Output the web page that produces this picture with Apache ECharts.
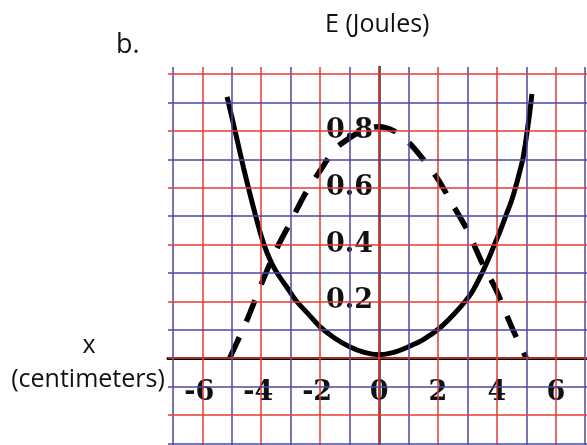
<!DOCTYPE html>
<html>
<head>
<meta charset="utf-8">
<script src="https://cdn.jsdelivr.net/npm/echarts@6/dist/echarts.min.js"></script>
<style>
html,body{margin:0;padding:0;background:#fff;}
#chart{width:587px;height:445px;}
</style>
</head>
<body>
<div id="chart"></div>
<script>
// ---- data ----
// solid curve (x in cm, E in J)
const solidX = [-5.16, -5.0, -4.8, -4.6, -4.4, -4.2, -4.0, -3.8, -3.6, -3.4, -3.1, -2.8, -2.4, -2.0, -1.5, -1.0, -0.5, 0,
                0.5, 1.0, 1.5, 2.05, 2.5, 2.93, 3.2, 3.5, 3.7, 3.92, 4.1, 4.3, 4.5, 4.63, 4.76, 4.88, 4.96, 5.03, 5.11, 5.19];
const solidE = [0.92, 0.85, 0.76, 0.67, 0.585, 0.505, 0.43, 0.37, 0.325, 0.29, 0.245, 0.20, 0.155, 0.11, 0.07, 0.04, 0.02, 0.012,
                0.02, 0.04, 0.065, 0.105, 0.15, 0.20, 0.24, 0.30, 0.345, 0.40, 0.445, 0.50, 0.555, 0.60, 0.65, 0.70, 0.75, 0.80, 0.86, 0.93];
// dashed curve
const dashX = [-5.07, -4.5, -4.0, -3.5, -3.0, -2.5, -2.0, -1.5, -1.0, -0.5, 0, 0.5, 1.0, 1.5, 2.0, 2.5, 3.0, 3.5, 4.0, 4.5, 5.0];
const dashE = [0, 0.13, 0.26, 0.38, 0.48, 0.58, 0.66, 0.735, 0.775, 0.805, 0.815, 0.80, 0.76, 0.70, 0.63, 0.54, 0.45, 0.335, 0.235, 0.11, 0];
// tick labels
const xTickLabels = [-6, -4, -2, 0, 2, 4, 6];
const yTickLabels = [0.2, 0.4, 0.6, 0.8];
// graph paper lines
const xGridValues = [-7, -6, -5, -4, -3, -2, -1, 0, 1, 2, 3, 4, 5, 6, 7];
const yGridValues = [-0.3, -0.2, -0.1, 0, 0.1, 0.2, 0.3, 0.4, 0.5, 0.6, 0.7, 0.8, 0.9, 1.0];
// texts
const yTitle = 'E (Joules)';
const xTitle1 = 'x';
const xTitle2 = '(centimeters)';
const partLabel = 'b.';

const RED = '#e43a36';
const BLUE = '#4b47a4';

const zip = (a, b) => a.map((v, i) => [v, b[i]]);

const vLines = xGridValues.map(v => ({
  xAxis: v,
  lineStyle: { color: (Math.round(v) % 2 === 0) ? RED : BLUE, width: 1.5, type: 'solid' }
}));
const hLines = yGridValues.map(v => ({
  yAxis: v,
  lineStyle: { color: (Math.round(v * 10) % 2 === 0) ? RED : BLUE, width: 1.5, type: 'solid' }
}));

const labelFont = { fontFamily: 'DejaVu Serif', fontWeight: 'bold', fontSize: 27, color: '#111' };

const chart = echarts.init(document.getElementById('chart'), null, { renderer: 'canvas' });
chart.setOption({
  animation: false,
  backgroundColor: '#fff',
  grid: { left: 168, right: 0, top: 67, bottom: 0, containLabel: false, outerBoundsMode: 'none' },
  xAxis: {
    type: 'value', min: -7.165, max: 7.06, z: 1, position: 'bottom', offset: -87,
    axisLine: { onZero: false, lineStyle: { color: '#000', width: 3 } },
    axisTick: { show: false },
    splitLine: { show: false },
    axisLabel: Object.assign({
      customValues: xTickLabels, margin: 21,
      formatter: v => v < 0 ? '{n|' + v + '}' : '{p|' + v + '}',
      rich: {
        n: Object.assign({ padding: [0, 6, 0, 0] }, labelFont),
        p: Object.assign({}, labelFont)
      }
    }, labelFont)
  },
  yAxis: {
    type: 'value', min: -0.306, max: 1.025, z: 1, position: 'left', offset: -211,
    axisLine: { onZero: false, lineStyle: { color: '#333', width: 2.5 } },
    axisTick: { show: false },
    splitLine: { show: false },
    axisLabel: Object.assign({ customValues: yTickLabels, margin: 6, formatter: v => v.toFixed(1) }, labelFont)
  },
  graphic: [
    { type: 'text', left: 325, top: 12, style: { text: yTitle, font: '25px "Open Sans"', fill: '#111' } },
    { type: 'text', left: 116, top: 32, style: { text: partLabel, font: '27px "Open Sans"', fill: '#111' } },
    { type: 'text', x: 89, y: 346, style: { text: xTitle1, font: '25px "Open Sans"', fill: '#111', align: 'center', verticalAlign: 'middle' } },
    { type: 'text', x: 88, y: 380, style: { text: xTitle2, font: '25px "Open Sans"', fill: '#111', align: 'center', verticalAlign: 'middle' } }
  ],
  series: [
    {
      type: 'line', data: [], z: 0, silent: true,
      markLine: { silent: true, symbol: 'none', label: { show: false }, animation: false, data: vLines.concat(hLines) }
    },
    {
      type: 'line', data: zip(solidX, solidE), z: 2, showSymbol: false, smooth: 0.3,
      lineStyle: { color: '#000', width: 5 }
    },
    {
      type: 'line', data: zip(dashX, dashE), z: 2, showSymbol: false, smooth: 0.3,
      lineStyle: { color: '#000', width: 5.5, type: [23, 17], cap: 'butt' }
    }
  ]
});
</script>
</body>
</html>
